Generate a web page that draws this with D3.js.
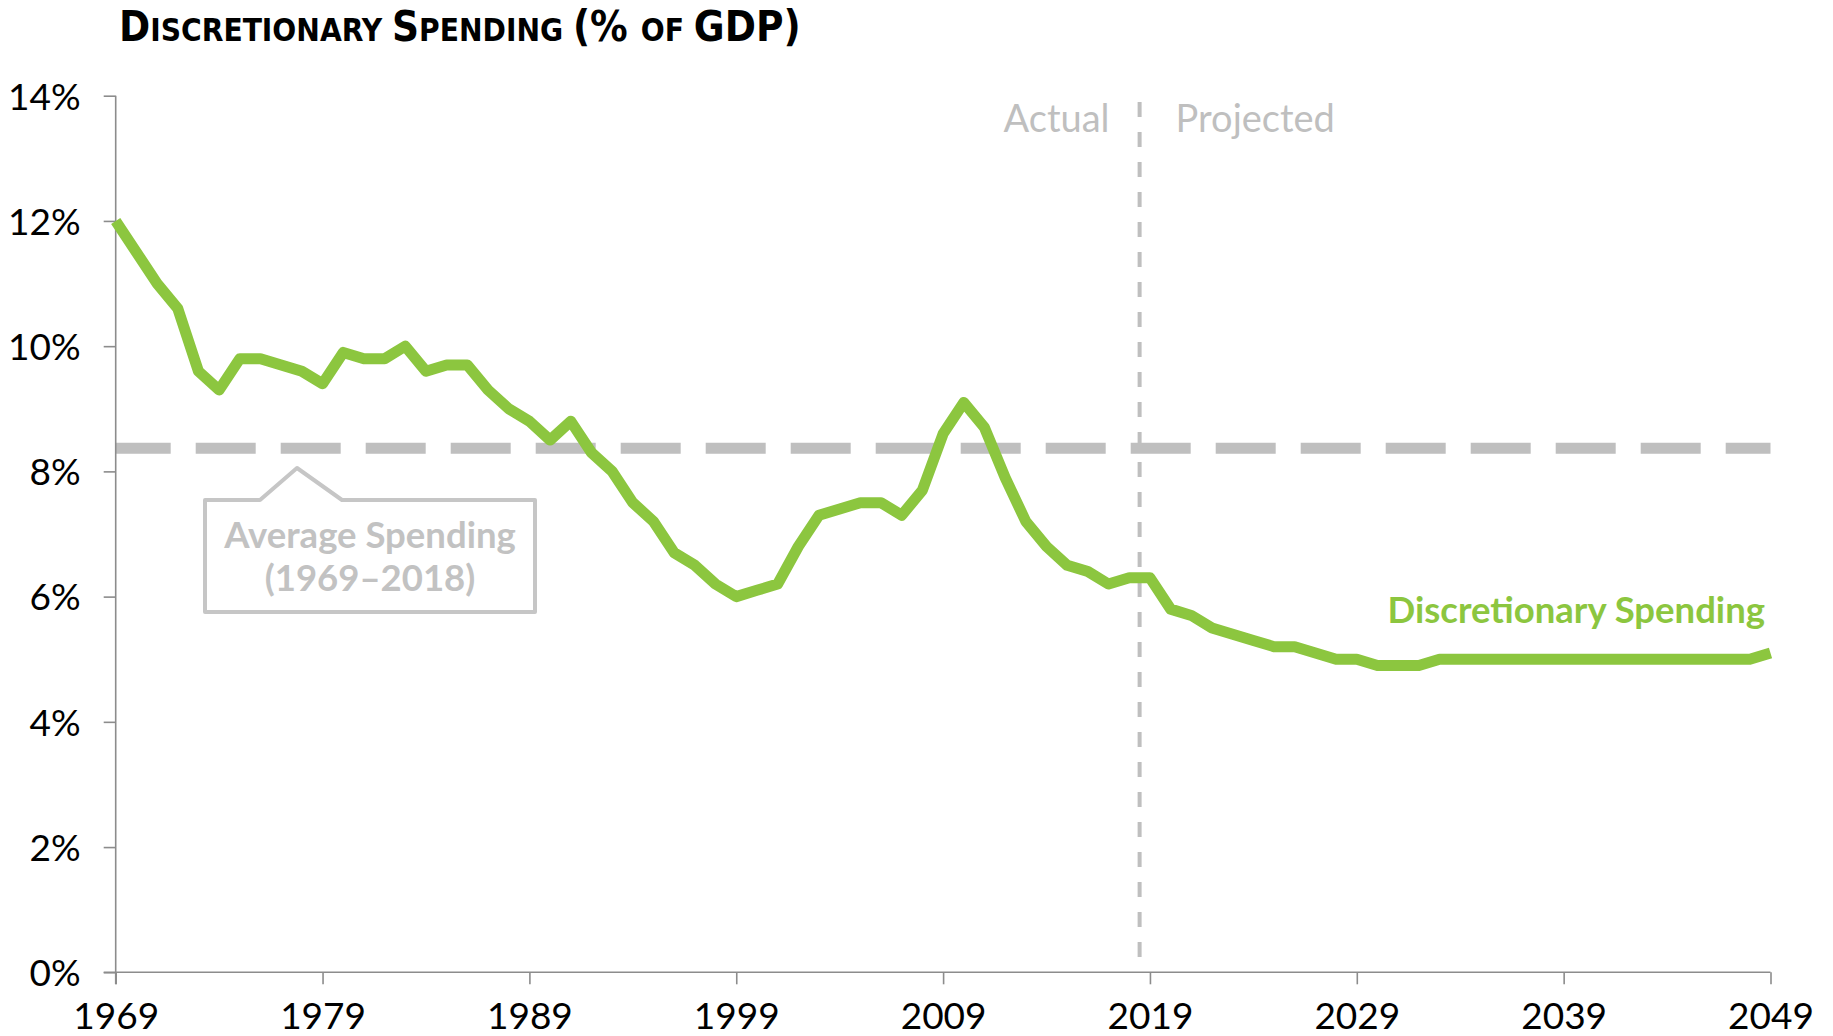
<!DOCTYPE html>
<html>
<head>
<meta charset="utf-8">
<script src="https://cdn.jsdelivr.net/npm/d3@7"></script>
<style>
  html, body { margin: 0; padding: 0; background: #ffffff; }
  svg { display: block; }
</style>
</head>
<body>
<svg id="chart" width="1833" height="1036"></svg>
<script>
// ---------- DATA ----------
const years = d3.range(1969, 2050);
const spending = [
  12.0, 11.5, 11.0, 10.6, 9.6, 9.3, 9.8, 9.8, 9.7, 9.6,   // 1969-1978
  9.4, 9.9, 9.8, 9.8, 10.0, 9.6, 9.7, 9.7, 9.3, 9.0,      // 1979-1988
  8.8, 8.5, 8.8, 8.3, 8.0, 7.5, 7.2, 6.7, 6.5, 6.2,       // 1989-1998
  6.0, 6.1, 6.2, 6.8, 7.3, 7.4, 7.5, 7.5, 7.3, 7.7,       // 1999-2008
  8.6, 9.1, 8.7, 7.9, 7.2, 6.8, 6.5, 6.4, 6.2, 6.3,       // 2009-2018
  6.3, 5.8, 5.7, 5.5, 5.4, 5.3, 5.2, 5.2, 5.1, 5.0,       // 2019-2028
  5.0, 4.9, 4.9, 4.9, 5.0, 5.0, 5.0, 5.0, 5.0, 5.0,       // 2029-2038
  5.0, 5.0, 5.0, 5.0, 5.0, 5.0, 5.0, 5.0, 5.0, 5.0,       // 2039-2048
  5.1                                                     // 2049
];
const averageSpending = 8.37;
const splitYear = 2018.5;
const yTicks = [0, 2, 4, 6, 8, 10, 12, 14];
const xTicks = [1969, 1979, 1989, 1999, 2009, 2019, 2029, 2039, 2049];
const titleParts = [
  {t: "D", big: true}, {t: "ISCRETIONARY ", big: false},
  {t: "S", big: true}, {t: "PENDING ", big: false},
  {t: "(% ", big: true}, {t: "OF ", big: false}, {t: "GDP)", big: true}
];
const seriesLabel = "Discretionary Spending";
const avgLabel = ["Average Spending", "(1969\u20132018)"];
const periodLabels = ["Actual", "Projected"];

// ---------- STYLE ----------
const GREEN = "#8cc63f";
const GRAY = "#bfbfbf";
const AXIS = "#8c8c8c";
const tickFont = "Lato, 'Noto Sans', sans-serif";

const svg = d3.select("#chart");
const x = d3.scaleLinear().domain([1969, 2049]).range([115.7, 1770.5]);
const y = d3.scaleLinear().domain([0, 14]).range([972.3, 95.7]);

// Title (sized to the reference width without squeezing glyphs)
const title = svg.append("text")
  .attr("x", 119).attr("y", 41)
  .attr("font-family", "'Liberation Sans Narrow', 'DejaVu Sans Condensed', Roboto, sans-serif")
  .attr("font-weight", 700)
  .attr("fill", "#000");
let bigSize = 44, smallSize = 33;
const tsp = title.selectAll("tspan").data(titleParts).join("tspan")
  .attr("font-size", d => d.big ? bigSize : smallSize)
  .text(d => d.t);
const w = title.node().getComputedTextLength();
const k = 682 / w;
tsp.attr("font-size", d => (d.big ? bigSize : smallSize) * k);

// Average dashed line
svg.append("line")
  .attr("x1", x(1969)).attr("x2", x(2049))
  .attr("y1", y(averageSpending)).attr("y2", y(averageSpending))
  .attr("stroke", GRAY).attr("stroke-width", 11)
  .attr("stroke-dasharray", "60 25")
  .attr("stroke-dashoffset", 5);

// Actual / projected divider
svg.append("line")
  .attr("x1", x(splitYear)).attr("x2", x(splitYear))
  .attr("y1", 102).attr("y2", y(0) - 6)
  .attr("stroke", GRAY).attr("stroke-width", 4)
  .attr("stroke-dasharray", "15 15");

svg.append("text").attr("x", x(splitYear) - 30).attr("y", 132)
  .attr("text-anchor", "end").attr("font-family", tickFont)
  .attr("font-size", 38).attr("fill", GRAY).text(periodLabels[0]);
svg.append("text").attr("x", x(splitYear) + 36).attr("y", 132)
  .attr("text-anchor", "start").attr("font-family", tickFont)
  .attr("font-size", 38).attr("fill", GRAY).text(periodLabels[1]);

// Axes
const yAxis = d3.axisLeft(y).tickValues(yTicks).tickFormat(d => d + "%").tickSize(12).tickSizeOuter(0);
const gy = svg.append("g").attr("transform", `translate(${x(1969)},0)`).call(yAxis);
gy.select(".domain").attr("stroke", AXIS).attr("stroke-width", 1.6)
  .attr("d", `M0,${y(14)}V${y(0) + 12}`);
gy.selectAll(".tick line").attr("stroke", AXIS).attr("stroke-width", 1.6);
gy.selectAll(".tick text").attr("x", -35).attr("dy", "0.36em")
  .attr("font-family", tickFont).attr("font-size", 37).attr("fill", "#000");

const xAxis = d3.axisBottom(x).tickValues(xTicks).tickFormat(d3.format("d")).tickSize(12).tickSizeOuter(0);
const gx = svg.append("g").attr("transform", `translate(0,${y(0)})`).call(xAxis);
gx.select(".domain").attr("stroke", AXIS).attr("stroke-width", 1.6)
  .attr("d", `M${x(1969) - 12},0H${x(2049)}`);
gx.selectAll(".tick line").attr("stroke", AXIS).attr("stroke-width", 1.6);
gx.selectAll(".tick text").attr("y", 57).attr("dy", 0)
  .attr("font-family", tickFont).attr("font-size", 37).attr("fill", "#000");

// Average annotation box with pointer
const bx0 = 205, bx1 = 535, by0 = 500, by1 = 612;
svg.append("path")
  .attr("d", `M${bx0},${by0}H260L297,468L342,${by0}H${bx1}V${by1}H${bx0}Z`)
  .attr("fill", "#fff").attr("stroke", "#c6c6c6").attr("stroke-width", 4)
  .attr("stroke-linejoin", "round");
svg.append("text").attr("x", (bx0 + bx1) / 2).attr("y", 548)
  .attr("text-anchor", "middle").attr("font-family", tickFont).attr("font-weight", 700)
  .attr("font-size", 36.5).attr("fill", "#c2c2c2").text(avgLabel[0]);
svg.append("text").attr("x", (bx0 + bx1) / 2).attr("y", 591)
  .attr("text-anchor", "middle").attr("font-family", tickFont).attr("font-weight", 700)
  .attr("font-size", 36.5).attr("fill", "#c2c2c2").text(avgLabel[1]);

// Spending line
const line = d3.line().x((d, i) => x(years[i])).y(d => y(d));
svg.append("path").datum(spending)
  .attr("d", line)
  .attr("fill", "none").attr("stroke", GREEN).attr("stroke-width", 11)
  .attr("stroke-linejoin", "round");

// Series label
svg.append("text").attr("x", 1765).attr("y", 623)
  .attr("text-anchor", "end").attr("font-family", tickFont).attr("font-weight", 700)
  .attr("font-size", 36.5).attr("fill", GREEN).text(seriesLabel);
</script>
</body>
</html>
